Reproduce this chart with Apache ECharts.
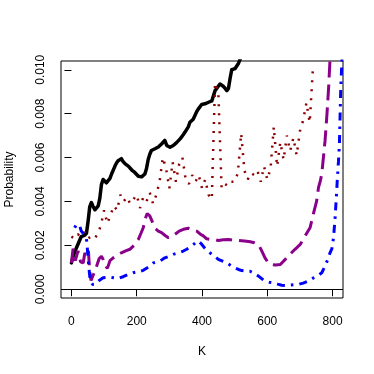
<!DOCTYPE html>
<html>
<head>
<meta charset="utf-8">
<script src="https://cdn.jsdelivr.net/npm/echarts@6/dist/echarts.min.js"></script>
<style>
html,body{margin:0;padding:0;background:#fff;}
#chart{width:374px;height:374px;}
</style>
</head>
<body>
<div id="chart"></div>
<script>
// ---- data ----
var xTicks = [0, 200, 400, 600, 800];
var yTicks = [0, 0.002, 0.004, 0.006, 0.008, 0.010];
var baseline = 0.00118;

var blackK = [0,5,10,20,30,40,46,51,56,61,66,72,77,82,87,92,97,102,107,112,118,123,128,133,138,143,148,153,158,164,169,175,180,187,194,200,205,210,215,220,225,230,235,240,245,250,256,261,266,271,276,281,286,292,297,302,307,312,317,322,328,333,338,343,348,353,358,363,368,373,379,384,389,394,399,404,409,414,420,425,430,435,440,445,450,455,465,471,476,481,486,491,496,501,507,512,520];
var blackP = [0.00120,0.00150,0.00170,0.00205,0.00240,0.00245,0.00255,0.00310,0.00375,0.00395,0.00378,0.00362,0.00360,0.00380,0.00415,0.00478,0.00500,0.00498,0.00485,0.00487,0.00505,0.00525,0.00530,0.00560,0.00575,0.00586,0.00590,0.00595,0.00582,0.00572,0.00563,0.00560,0.00552,0.00540,0.00532,0.00525,0.00515,0.00510,0.00512,0.00520,0.00525,0.00550,0.00590,0.00615,0.00632,0.00638,0.00640,0.00645,0.00648,0.00655,0.00662,0.00670,0.00678,0.00655,0.00650,0.00647,0.00652,0.00655,0.00662,0.00668,0.00675,0.00685,0.00695,0.00705,0.00716,0.00725,0.00740,0.00761,0.00770,0.00775,0.00780,0.00810,0.00822,0.00830,0.00842,0.00840,0.00845,0.00850,0.00852,0.00855,0.00858,0.00860,0.00905,0.00915,0.00925,0.00935,0.00925,0.00915,0.00905,0.00915,0.00960,0.01000,0.01005,0.01005,0.01010,0.01030,0.01060];

var redK = [0,10,20,30,40,50,60,70,80,90,100,110,120,130,140,150,160,170,180,190,200,210,220,230,240,250,260,270,280,290,300,310,320,330,340,350,360,370,380,390,400,410,420,430,440,450,460,470,480,490,500,510,520,530,540,550,560,570,580,590,600,610,620,630,640,650,660,670,680,690,700,710,720,730,740];
var redP = [0.0024,0.0023,0.0025,0.0024,0.0026,0.0023,0.0024,0.0023,0.0025,0.0029,0.0036,0.0030,0.0034,0.0038,0.0036,0.0043,0.0040,0.0042,0.0039,0.0041,0.0043,0.0037,0.0042,0.0040,0.0044,0.0039,0.0043,0.0049,0.0060,0.0055,0.0046,0.0058,0.0049,0.0057,0.0060,0.0050,0.0048,0.0052,0.0049,0.0052,0.0046,0.0050,0.0043,0.0041,0.0094,0.0090,0.0046,0.0048,0.0047,0.0049,0.0049,0.0053,0.0071,0.0054,0.0050,0.0053,0.0052,0.0054,0.0049,0.0056,0.0050,0.0055,0.0074,0.0056,0.0067,0.0059,0.0070,0.0063,0.0069,0.0061,0.0072,0.0077,0.0085,0.0076,0.0101];

var purpleK = [0,5,12,20,28,36,41,47,52,56,60,68,77,85,92,97,105,110,118,128,140,153,166,179,192,205,213,220,226,232,240,251,258,266,276,287,297,307,317,330,343,358,372,384,394,404,414,425,435,450,465,481,495,510,530,548,560,573,583,593,603,612,625,640,655,670,685,701,716,731,741,751,757,762,767,777,783,788,792,796];
var purpleP = [0.00120,0.00185,0.00130,0.00175,0.00125,0.00120,0.00165,0.00150,0.00175,0.00080,0.00040,0.00070,0.00105,0.00140,0.00150,0.00136,0.00105,0.00095,0.00130,0.00143,0.00155,0.00166,0.00175,0.00182,0.00200,0.00227,0.00255,0.00280,0.00320,0.00345,0.00334,0.00296,0.00275,0.00265,0.00258,0.00245,0.00235,0.00240,0.00250,0.00265,0.00273,0.00278,0.00270,0.00265,0.00252,0.00243,0.00230,0.00227,0.00227,0.00222,0.00225,0.00227,0.00224,0.00223,0.00220,0.00216,0.00212,0.00204,0.00175,0.00143,0.00120,0.00112,0.00110,0.00113,0.00136,0.00160,0.00182,0.00204,0.00243,0.00280,0.00342,0.00400,0.00464,0.00490,0.00525,0.00677,0.00800,0.00920,0.01040,0.01150];

var blueK = [10,15,20,25,30,36,41,46,49,52,55,58,65,72,85,97,118,143,160,174,189,205,220,235,251,271,286,300,312,327,340,353,366,379,389,399,409,420,430,440,450,463,476,488,501,512,522,535,547,560,573,583,593,606,619,632,644,655,665,680,695,710,726,742,755,767,777,785,792,798,803,808,812,815,818,821,825,829];
var blueP = [0.00280,0.00295,0.00303,0.00290,0.00265,0.00255,0.00250,0.00230,0.00180,0.00125,0.00075,0.00035,0.00022,0.00022,0.00040,0.00052,0.00055,0.00049,0.00058,0.00067,0.00075,0.00080,0.00086,0.00100,0.00120,0.00128,0.00143,0.00150,0.00159,0.00166,0.00172,0.00182,0.00195,0.00210,0.00220,0.00205,0.00186,0.00172,0.00159,0.00148,0.00136,0.00128,0.00120,0.00108,0.00097,0.00090,0.00085,0.00083,0.00082,0.00072,0.00060,0.00048,0.00037,0.00032,0.00029,0.00023,0.00018,0.00017,0.00018,0.00020,0.00022,0.00028,0.00037,0.00052,0.00062,0.00075,0.00105,0.00135,0.00165,0.00185,0.00235,0.00330,0.00430,0.00510,0.00580,0.00660,0.00910,0.01050];

function pairs(k, p) { return k.map(function (v, i) { return [v, p[i]]; }); }

var FONT = 'Liberation Sans, Arial, Helvetica, sans-serif';
var chart = echarts.init(document.getElementById('chart'), null, {renderer: 'canvas'});
chart.setOption({
  animation: false,
  backgroundColor: '#fff',
  grid: {left: 61, right: 31, top: 61, bottom: 76, containLabel: false, outerBoundsMode: 'none',
         show: true, borderColor: '#000', borderWidth: 1, backgroundColor: 'transparent'},
  xAxis: {
    type: 'value', min: -32, max: 832,
    name: 'K', nameLocation: 'middle', nameGap: 48,
    nameTextStyle: {fontFamily: FONT, fontSize: 12, color: '#000'},
    axisLine: {show: false},
    splitLine: {show: false},
    axisTick: {show: true, length: 7, customValues: xTicks, lineStyle: {color: '#000', width: 1}},
    axisLabel: {customValues: xTicks, margin: 18, fontFamily: FONT, fontSize: 12, color: '#000'}
  },
  yAxis: {
    type: 'value', min: -0.0004, max: 0.0104,
    name: 'Probability', nameLocation: 'middle', nameGap: 45, nameRotate: 90,
    nameTextStyle: {fontFamily: FONT, fontSize: 12, color: '#000'},
    axisLine: {show: false},
    splitLine: {show: false},
    axisTick: {show: true, length: 7, customValues: yTicks, lineStyle: {color: '#000', width: 1}},
    axisLabel: {customValues: yTicks, rotate: 90, margin: 14, fontFamily: FONT, fontSize: 12, color: '#000',
      formatter: function (v) { return v.toFixed(3); }}
  },
  series: [
    {type: 'line', name: 'black', data: pairs(blackK, blackP), showSymbol: false, symbol: 'none',
     lineStyle: {color: '#000', width: 3.5, join: 'round', cap: 'round'},
     markLine: {silent: true, symbol: 'none', label: {show: false},
       lineStyle: {color: '#000', width: 1, type: 'solid'}, data: [{yAxis: baseline}]}},
    {type: 'line', name: 'red', data: pairs(redK, redP), showSymbol: false, symbol: 'none',
     lineStyle: {color: '#8B0000', width: 2.5, type: [2, 7], cap: 'butt'}},
    {type: 'line', name: 'purple', data: pairs(purpleK, purpleP), showSymbol: false, symbol: 'none',
     lineStyle: {color: '#8B008B', width: 3, type: [16, 7], cap: 'butt'}},
    {type: 'line', name: 'blue', data: pairs(blueK, blueP), showSymbol: false, symbol: 'none',
     lineStyle: {color: '#0000FF', width: 3, type: [2.5, 6, 8, 6], cap: 'butt'}}
  ]
});
</script>
</body>
</html>
